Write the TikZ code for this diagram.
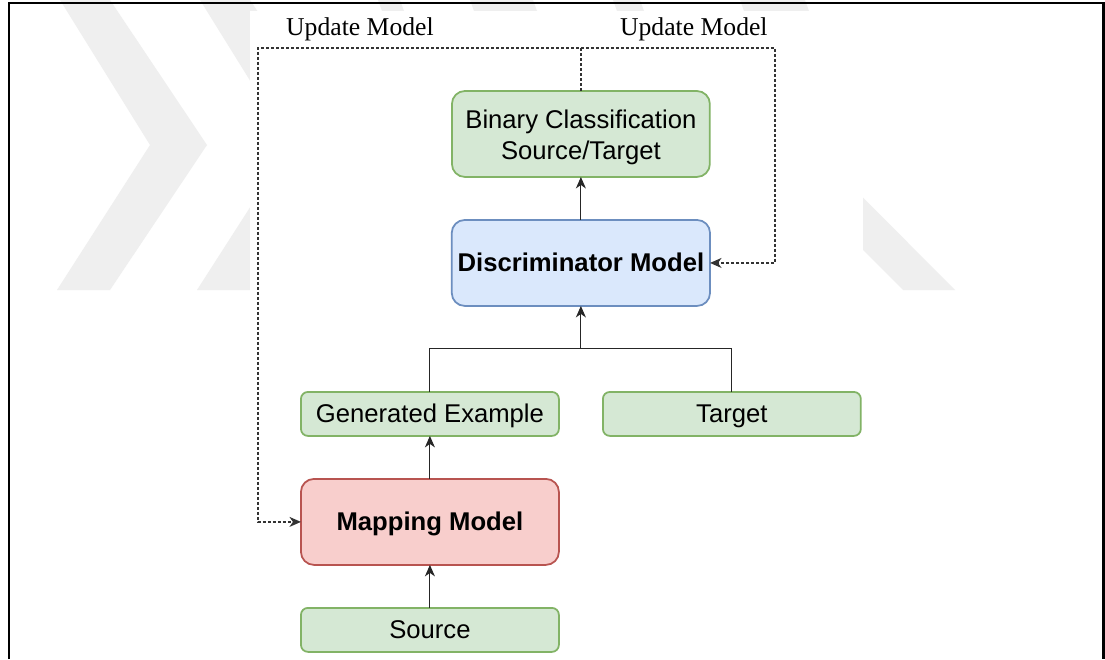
\documentclass[tikz,border=0pt]{standalone}
\usepackage{fontspec}
\setmainfont{Liberation Sans}
\newfontfamily\serifface{Liberation Serif}
\usepackage{xcolor}
\usetikzlibrary{positioning, calc, arrows.meta}

\definecolor{greenfill}{HTML}{D5E8D4}
\definecolor{greenline}{HTML}{82B366}
\definecolor{bluefill}{HTML}{DAE8FC}
\definecolor{blueline}{HTML}{6C8EBF}
\definecolor{redfill}{HTML}{F8CECC}
\definecolor{redline}{HTML}{B85450}
\definecolor{markgray}{HTML}{EFEFEF}

\begin{document}
\begin{tikzpicture}[font=\fontsize{14.6pt}{17.5pt}\selectfont, node distance=0.86 cm]
\tikzstyle{box} = [rectangle, minimum width=5.16 cm, text centered, text height=13.2 pt, text depth=3.1 pt, line width=1 pt, outer sep=0 pt]
\tikzstyle{tall} = [box, minimum height=1.72 cm, rounded corners=0.26 cm]
\tikzstyle{flat} = [box, minimum height=0.88 cm, rounded corners=0.14 cm]
\tikzstyle{greenbox} = [draw=greenline, fill=greenfill]
\tikzstyle{bluebox} = [draw=blueline, fill=bluefill]
\tikzstyle{redbox} = [draw=redline, fill=redfill]
\tikzstyle{link} = [-{Stealth[length=2.3mm, width=2mm, inset=0.7mm]}, line width=0.6 pt, draw=black!85]
\tikzstyle{update} = [link, line width=0.7 pt, draw=black!80, dash pattern=on 0.06cm off 0.04cm]

% page frame with the faint watermark behind the figure
\begin{scope}[x=0.02 cm, y=-0.02 cm]
\useasboundingbox (0,0) rectangle (1105,659);
\clip (0,0) rectangle (1105,659);
\fill [white] (0,0) rectangle (1105,659);
\fill [markgray] (60,0) -- (110,0) -- (207,145) -- (110,290) -- (57,290) -- (150,145) -- cycle;
\fill [markgray] (200,0) -- (250,0) -- (347,145) -- (250,290) -- (197,290) -- (290,145) -- cycle;
\fill [markgray] (760,94) -- (955,290) -- (903,290) -- (760,147) -- cycle;
\fill [markgray] (378,0) -- (400,0) -- (404,11) -- (382,11) -- cycle;
\fill [markgray] (470,0) -- (533,0) -- (537,11) -- (474,11) -- cycle;
\fill [markgray] (613,0) -- (640,0) -- (644,11) -- (617,11) -- cycle;
\fill [markgray] (740,0) -- (805,0) -- (809,11) -- (744,11) -- cycle;
\fill [white] (250,11) rectangle (863,659);
\draw [line width=1.2 pt] (9,659) -- (9,3.3) -- (1103.5,3.3) -- (1103.5,659);
\end{scope}

\node (binary) [tall, greenbox, align=center, text height=31.9 pt, text depth=3.1 pt] at (11.62,-2.68) {Binary Classification\\Source/Target};
\node (disc) [tall, bluebox, below=of binary] {\bfseries Discriminator Model};
\node (gen) [flat, greenbox, below=1.72 cm of disc, xshift=-3.02 cm] {Generated Example};
\node (target) [flat, greenbox, right=0.88 cm of gen] {Target};
\node (mapping) [tall, redbox, below=of gen] {\bfseries Mapping Model};
\node (source) [flat, greenbox, below=of mapping] {Source};

\draw [link] (source) -- (mapping);
\draw [link] (mapping) -- (gen);
\draw [link] (disc) -- (binary);

\coordinate (join) at ($(disc.south)!0.5!(disc.south |- gen.north)$);
\draw [line width=0.6 pt, draw=black!85] (gen.north) |- (join) -| (target.north);
\draw [link] (join) -- (disc.south);

% feedback loops
\coordinate (fb) at ($(binary.north)+(0,0.86)$);
\coordinate (fbL) at ($(mapping.west)+(-0.86,0)$);
\coordinate (fbR) at ($(disc.east)+(1.3,0)$);
\draw [update] (binary.north) -- (fb) -| (fbL) -- (mapping.west);
\draw [update] (fb) -| (fbR) -- (disc.east);

\node (updL) [anchor=base] at ($(fb)+(-4.42,0.24)$) {\serifface Update Model};
\node (updR) [anchor=base] at ($(fb)+(2.26,0.24)$) {\serifface Update Model};

\end{tikzpicture}
\end{document}
